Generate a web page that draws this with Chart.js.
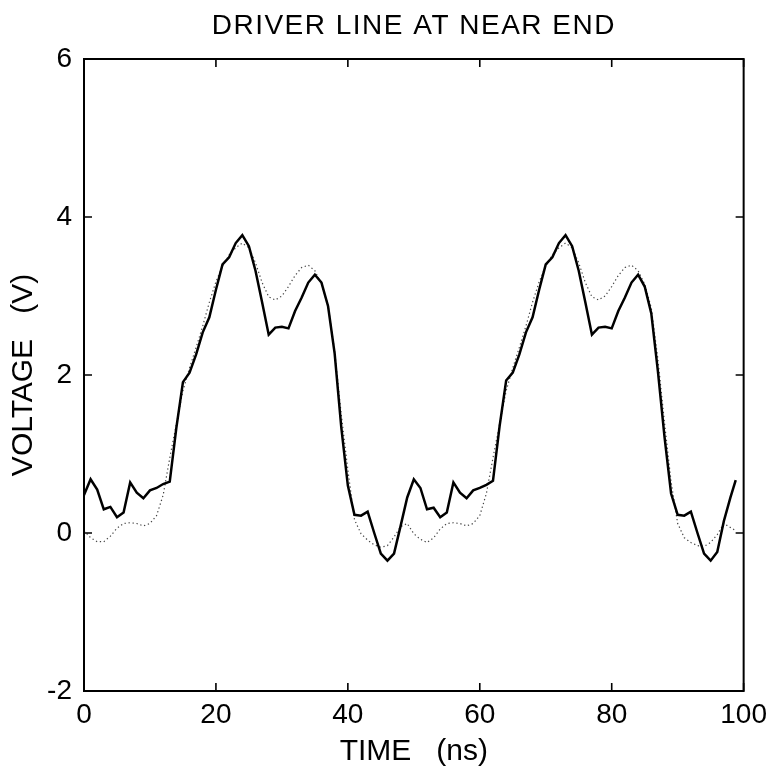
<!DOCTYPE html>
<html>
<head>
<meta charset="utf-8">
<title>Driver line at near end</title>
<script src="https://cdn.jsdelivr.net/npm/chart.js@4.4.1/dist/chart.umd.min.js"></script>
<style>
  html, body { margin: 0; padding: 0; background: #fff; }
  canvas { display: block; }
</style>
</head>
<body>
<canvas id="chart" width="774" height="772"></canvas>
<script>
const chartTitle = 'DRIVER LINE AT NEAR END';
const xTitle = 'TIME   (ns)';
const yTitle = 'VOLTAGE   (V)';

// time axis (ns)
const times = [
  0, 1, 2, 3, 4, 5, 6, 7, 8, 9,
  10, 11, 12, 13, 14, 15, 16, 17, 18, 19,
  20, 21, 22, 23, 24, 25, 26, 27, 28, 29,
  30, 31, 32, 33, 34, 35, 36, 37, 38, 39,
  40, 41, 42, 43, 44, 45, 46, 47, 48, 49,
  50, 51, 52, 53, 54, 55, 56, 57, 58, 59,
  60, 61, 62, 63, 64, 65, 66, 67, 68, 69,
  70, 71, 72, 73, 74, 75, 76, 77, 78, 79,
  80, 81, 82, 83, 84, 85, 86, 87, 88, 89,
  90, 91, 92, 93, 94, 95, 96, 97, 98, 98.8
];

// solid curve (V)
const solidVolts = [
  0.48, 0.68, 0.55, 0.30, 0.33, 0.20, 0.26, 0.64, 0.51, 0.44,
  0.54, 0.57, 0.62, 0.65, 1.33, 1.91, 2.03, 2.26, 2.54, 2.73,
  3.08, 3.40, 3.49, 3.67, 3.77, 3.63, 3.32, 2.92, 2.51, 2.60,
  2.61, 2.59, 2.81, 2.98, 3.17, 3.27, 3.17, 2.87, 2.27, 1.34,
  0.60, 0.23, 0.22, 0.27, 0.00, -0.26, -0.35, -0.26, 0.09, 0.45,
  0.68, 0.57, 0.30, 0.32, 0.20, 0.26, 0.64, 0.51, 0.44, 0.54,
  0.57, 0.61, 0.66, 1.35, 1.93, 2.03, 2.26, 2.54, 2.73, 3.08,
  3.40, 3.49, 3.67, 3.77, 3.63, 3.32, 2.92, 2.51, 2.60, 2.61,
  2.59, 2.81, 2.98, 3.17, 3.27, 3.12, 2.78, 2.05, 1.22, 0.50,
  0.23, 0.22, 0.27, 0.00, -0.26, -0.35, -0.24, 0.15, 0.45, 0.67
];

// dotted curve (V)
const dottedVolts = [
  0.03, -0.06, -0.11, -0.11, -0.04, 0.06, 0.12, 0.13, 0.12, 0.09,
  0.12, 0.22, 0.48, 0.95, 1.38, 1.80, 2.09, 2.35, 2.62, 2.92,
  3.18, 3.38, 3.52, 3.61, 3.67, 3.61, 3.42, 3.17, 2.99, 2.95,
  3.00, 3.12, 3.26, 3.36, 3.39, 3.32, 3.15, 2.88, 2.30, 1.50,
  0.80, 0.17, -0.01, -0.09, -0.15, -0.18, -0.16, -0.05, 0.08, 0.12,
  -0.01, -0.08, -0.12, -0.06, 0.05, 0.12, 0.13, 0.12, 0.09, 0.12,
  0.22, 0.50, 0.95, 1.38, 1.80, 2.09, 2.35, 2.62, 2.92, 3.18,
  3.38, 3.52, 3.61, 3.67, 3.61, 3.42, 3.17, 2.99, 2.95, 3.00,
  3.12, 3.26, 3.36, 3.39, 3.32, 3.15, 2.85, 2.20, 1.40, 0.65,
  0.12, -0.06, -0.12, -0.16, -0.17, -0.12, -0.02, 0.12, 0.07, 0.03
];

const xTicks = [0, 20, 40, 60, 80, 100];
const yTicks = [-2, 0, 2, 4, 6];

const fontFamily = '"Liberation Sans", Arial, Helvetica, sans-serif';

const toPoints = (xs, ys) => xs.map((x, i) => ({ x: x, y: ys[i] }));

// box round the plot, inward ticks and the heading
const framePlugin = {
  id: 'frame',
  afterDatasetsDraw(chart) {
    const { ctx, chartArea: a, scales } = chart;
    const tick = 8;
    ctx.save();
    ctx.strokeStyle = '#000';
    ctx.lineWidth = 2;
    ctx.strokeRect(a.left, a.top, a.right - a.left, a.bottom - a.top);

    ctx.lineWidth = 1.6;
    ctx.beginPath();
    xTicks.forEach(v => {
      const px = scales.x.getPixelForValue(v);
      ctx.moveTo(px, a.bottom);
      ctx.lineTo(px, a.bottom - tick);
      ctx.moveTo(px, a.top);
      ctx.lineTo(px, a.top + tick);
    });
    yTicks.forEach(v => {
      const py = scales.y.getPixelForValue(v);
      ctx.moveTo(a.left, py);
      ctx.lineTo(a.left + tick, py);
      ctx.moveTo(a.right, py);
      ctx.lineTo(a.right - tick, py);
    });
    ctx.stroke();

    ctx.fillStyle = '#000';
    ctx.font = '28px ' + fontFamily;
    if ('letterSpacing' in ctx) ctx.letterSpacing = '1.5px';
    ctx.textAlign = 'center';
    ctx.textBaseline = 'middle';
    ctx.fillText(chartTitle, (a.left + a.right) / 2, 26);
    ctx.restore();
  }
};

const ctx = document.getElementById('chart').getContext('2d');

new Chart(ctx, {
  type: 'line',
  data: {
    datasets: [
      {
        label: 'solid',
        data: toPoints(times, solidVolts),
        borderColor: '#000',
        borderWidth: 2.5,
        pointRadius: 0,
        tension: 0,
        fill: false
      },
      {
        label: 'dotted',
        data: toPoints(times, dottedVolts),
        borderColor: '#444',
        borderWidth: 1.2,
        borderDash: [1.3, 2.7],
        pointRadius: 0,
        tension: 0,
        fill: false
      }
    ]
  },
  options: {
    responsive: false,
    animation: false,
    layout: {
      padding: { left: 0, right: 30, top: 59, bottom: 0 }
    },
    plugins: {
      legend: { display: false },
      tooltip: { enabled: false },
      title: { display: false }
    },
    scales: {
      x: {
        type: 'linear',
        min: 0,
        max: 100,
        afterBuildTicks: s => { s.ticks = xTicks.map(v => ({ value: v })); },
        afterFit: s => { s.height = 81; },
        grid: { display: false, drawTicks: false },
        border: { display: false },
        ticks: {
          autoSkip: false,
          maxRotation: 0,
          padding: 7,
          color: '#000',
          font: { family: fontFamily, size: 28 }
        },
        title: {
          display: true,
          text: xTitle,
          color: '#000',
          font: { family: fontFamily, size: 30 },
          padding: { top: 0, bottom: 2 }
        }
      },
      y: {
        type: 'linear',
        min: -2,
        max: 6,
        afterBuildTicks: s => { s.ticks = yTicks.map(v => ({ value: v })); },
        afterFit: s => { s.width = 84; },
        grid: { display: false, drawTicks: false },
        border: { display: false },
        ticks: {
          autoSkip: false,
          padding: 12,
          color: '#000',
          font: { family: fontFamily, size: 28 }
        },
        title: {
          display: true,
          text: yTitle,
          color: '#000',
          font: { family: fontFamily, size: 30 },
          padding: { top: 6, bottom: 0 }
        }
      }
    }
  },
  plugins: [framePlugin]
});
</script>
</body>
</html>
